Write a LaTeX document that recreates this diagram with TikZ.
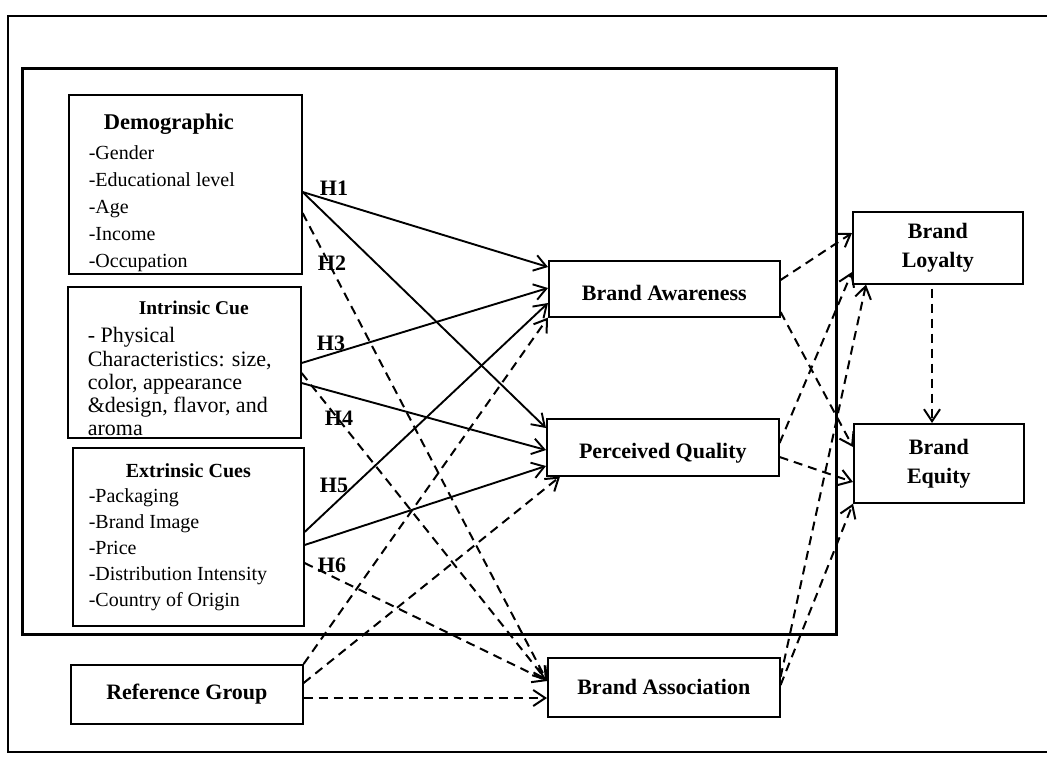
\documentclass[tikz,border=0pt]{standalone}
\usepackage{fontspec}
\setmainfont{Liberation Serif}
\usetikzlibrary{arrows.meta,calc}
\begin{document}
\begin{tikzpicture}[x=1pt,y=-1pt,
  box/.style={draw, line width=1.6pt, inner sep=0pt, anchor=north west, align=center,
    font=\bfseries\fontsize{22}{29}\selectfont},
  listbox/.style={draw, line width=1.6pt, inner sep=0pt, anchor=north west},
  lowtext/.style={text height=23pt, text depth=0pt},
  con/.style={line width=1.9pt, -{Straight Barb[length=12pt,width=16pt]}},
  dcon/.style={con, line width=2pt, dash pattern=on 9pt off 6pt},
  hlab/.style={font=\bfseries\fontsize{22}{22}\selectfont, inner sep=0pt}
]
\useasboundingbox (0,0) rectangle (1047,756);
% frames
\draw[line width=2.2pt] (1047,16) -- (8,16) -- (8,752) -- (1047,752);
\draw[line width=3pt] (22,68) rectangle (836,634);

% left boxes
\node[listbox, minimum width=233pt, minimum height=179pt] (demo) at (68,94)
 {\parbox[t][179pt][t]{233pt}{\raggedright\leftskip=20pt\fontsize{20}{27}\selectfont
  \rule{0pt}{35pt}\hspace*{15pt}{\bfseries\fontsize{22.5}{27}\selectfont Demographic}\\[3pt]
  -Gender\\ -Educational level\\ -Age\\ -Income\\ -Occupation}};
\node[listbox, minimum width=233pt, minimum height=151pt] (intr) at (67,286)
 {\parbox[t][151pt][t]{233pt}{\raggedright\leftskip=20pt\fontsize{22}{23.25}\selectfont
  \rule{0pt}{28pt}\hspace*{51pt}{\bfseries\fontsize{19.5}{23}\selectfont Intrinsic Cue}\\[4.75pt]
  - Physical\\ Characteristics: size,\\ color, appearance\\ \&design, flavor, and\\ aroma}};
\node[listbox, minimum width=231pt, minimum height=178pt] (extr) at (72,447)
 {\parbox[t][178pt][t]{231pt}{\raggedright\leftskip=16pt\fontsize{20}{26}\selectfont
  \rule{0pt}{30pt}\hspace*{37pt}{\bfseries Extrinsic Cues}\\[-1pt]
  -Packaging\\ -Brand Image\\ -Price\\ -Distribution Intensity\\ -Country of Origin}};
\node[box, minimum width=232pt, minimum height=59pt] (refg) at (70,664) {Reference Group};

% middle boxes
\node[box, lowtext, minimum width=231pt, minimum height=56pt] (aware) at (548,260) {Brand Awareness};
\node[box, lowtext, minimum width=232pt, minimum height=57pt] (qual) at (546,418) {Perceived Quality};
\node[box, minimum width=232pt, minimum height=59pt] (assoc) at (547,657) {Brand Association};

% right boxes
\node[box, minimum width=170pt, minimum height=72pt] (loyal) at (852,211) {Brand\\Loyalty};
\node[box, minimum width=170pt, minimum height=79pt] (equity) at (853,423) {Brand\\Equity};

% solid hypotheses
\draw[con] ($(demo.north east)+(0,98)$) -- ($(aware.north west)+(0,7)$);
\draw[con] ($(demo.north east)+(0,98)$) -- ($(qual.north west)+(0,10)$);
\draw[con] ($(intr.north east)+(0,77)$) -- ($(aware.north west)+(0,28)$);
\draw[con] ($(intr.north east)+(0,97)$) -- ($(qual.north west)+(0,32)$);
\draw[con] ($(extr.north east)+(0,85)$) -- ($(aware.north west)+(0,43)$);
\draw[con] ($(extr.north east)+(0,98)$) -- ($(qual.north west)+(0,48)$);

% dashed to brand association
\draw[dcon] ($(demo.north east)+(0,119)$) -- ($(assoc.north west)+(0,24)$);
\draw[dcon] ($(intr.north east)+(0,87)$) -- ($(assoc.north west)+(0,24)$);
\draw[dcon] ($(extr.north east)+(0,116)$) -- ($(assoc.north west)+(0,24)$);

% reference group
\draw[dcon] (refg.north east) -- (aware.south west);
\draw[dcon] ($(refg.north east)+(0,19)$) -- ($(qual.south west)+(14,0)$);
\draw[dcon] ($(refg.north east)+(0,34)$) -- ($(assoc.north west)+(0,41)$);

% right side
\draw[dcon] ($(aware.north east)+(0,20)$) -- ($(loyal.north west)+(0,22)$);
\draw[dcon] ($(aware.north east)+(0,52)$) -- ($(equity.north west)+(0,24)$);
\draw[dcon] ($(qual.north east)+(0,25)$) -- ($(loyal.north west)+(0,61)$);
\draw[dcon] ($(qual.north east)+(0,39)$) -- ($(equity.north west)+(0,59)$);
\draw[dcon] ($(assoc.north east)+(0,20)$) -- ($(loyal.south west)+(14,0)$);
\draw[dcon] ($(assoc.north east)+(0,28)$) -- (equity.south west);
\draw[dcon] ($(loyal.south west)+(80,4)$) -- ($(equity.north west)+(79,0)$);

% labels
\node[hlab] (h1) at (334,188) {H1};
\node[hlab] (h2) at (332,263) {H2};
\node[hlab] (h3) at (331,343) {H3};
\node[hlab] (h4) at (339,418) {H4};
\node[hlab] (h5) at (334,485) {H5};
\node[hlab] (h6) at (332,565) {H6};
\end{tikzpicture}
\end{document}
